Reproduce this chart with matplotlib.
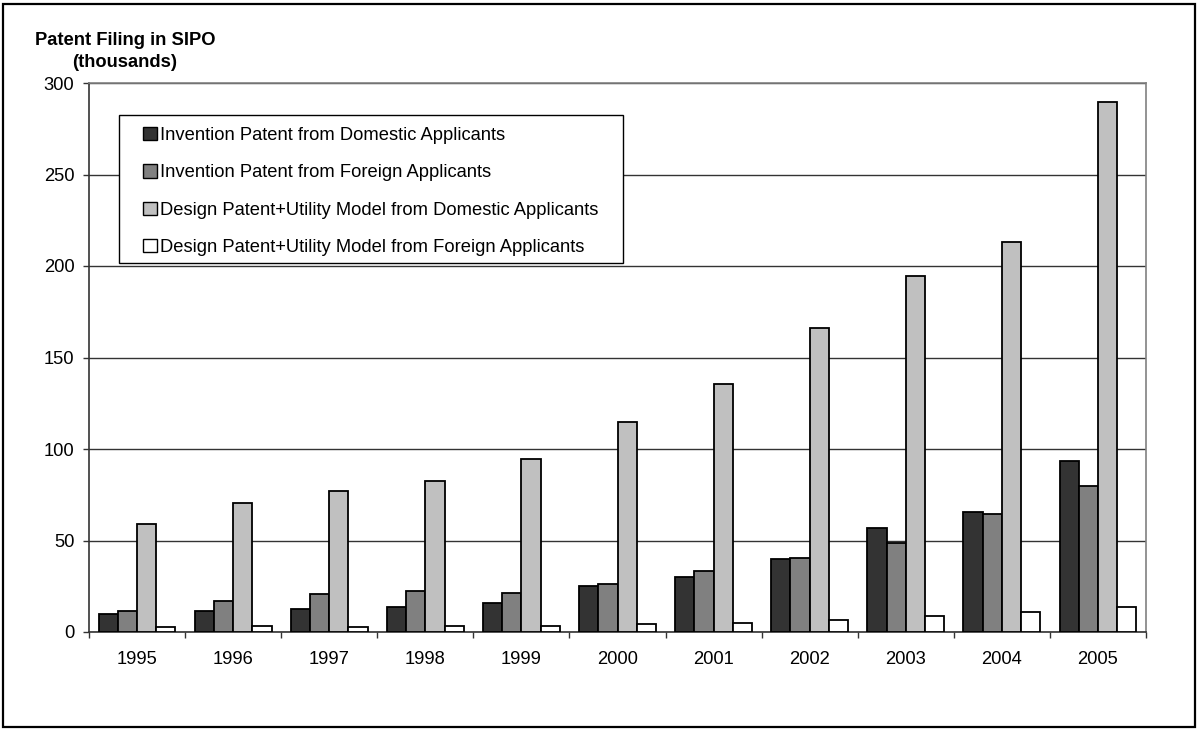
import matplotlib
matplotlib.use("Agg")
import matplotlib.pyplot as plt
from matplotlib.patches import Rectangle
import numpy as np

plt.rcParams['font.family'] = ['Liberation Sans', 'DejaVu Sans']

years = ['1995', '1996', '1997', '1998', '1999', '2000',
         '2001', '2002', '2003', '2004', '2005']

series_names = [
    'Invention Patent from Domestic Applicants',
    'Invention Patent from Foreign Applicants',
    'Design Patent+Utility Model from Domestic Applicants',
    'Design Patent+Utility Model from Foreign Applicants',
]

invention_domestic = [10.0, 11.5, 12.7, 13.7, 15.7, 25.2, 30.2, 39.8, 56.8, 65.8, 93.5]
invention_foreign = [11.6, 17.0, 21.0, 22.4, 21.2, 26.5, 33.5, 40.4, 48.6, 64.6, 80.0]
design_utility_domestic = [59.0, 70.5, 77.0, 82.5, 94.5, 115.0, 135.5, 166.0, 194.7, 213.3, 289.6]
design_utility_foreign = [2.5, 3.5, 3.0, 3.5, 3.3, 4.2, 4.9, 6.7, 8.9, 10.7, 13.6]

series_values = [invention_domestic, invention_foreign,
                 design_utility_domestic, design_utility_foreign]
series_colors = ['#333333', '#808080', '#C0C0C0', '#FFFFFF']

FS = 13.2
W, H = 1201, 729
fig = plt.figure(figsize=(W / 100, H / 100), dpi=100)
ax = fig.add_axes([89 / W, 1 - 632 / H, (1146 - 89) / W, (632 - 83) / H])

x = np.arange(len(years))
bar_w = 0.2
offsets = (np.arange(4) - 1.5) * bar_w
handles = []
for vals, col, name, off in zip(series_values, series_colors, series_names, offsets):
    b = ax.bar(x + off, vals, width=bar_w, color=col, edgecolor='black',
               linewidth=1.3, label=name, zorder=3)
    handles.append(b)

ax.set_xlim(-0.5, len(years) - 0.5)
ax.set_ylim(0, 300)
ax.set_yticks(np.arange(0, 301, 50))
ax.yaxis.grid(True, color='#333333', linewidth=1.0, zorder=0)
ax.set_axisbelow(True)

ax.set_xticks(x)
ax.set_xticklabels(years, fontsize=FS)
ax.set_xticks(np.arange(-0.5, len(years), 1.0), minor=True)
ax.tick_params(axis='x', which='major', length=0, pad=14)
ax.tick_params(axis='x', which='minor', length=4.5, width=1, direction='out', color='#333333')
ax.tick_params(axis='y', which='major', length=4.5, width=1, direction='out',
               labelsize=FS, pad=6, color='#333333')

for side in ('top', 'right'):
    ax.spines[side].set_color('#808080')
    ax.spines[side].set_linewidth(1.2)
for side in ('left', 'bottom'):
    ax.spines[side].set_color('#333333')
    ax.spines[side].set_linewidth(1.2)

# legend box with white background over the grid
box_l, box_t, box_r, box_b = 119, 115, 623, 263
ax.add_patch(Rectangle((box_l / W, 1 - box_b / H), (box_r - box_l) / W, (box_b - box_t) / H,
                       transform=fig.transFigure, facecolor='white', edgecolor='black',
                       linewidth=1.0, zorder=4))
leg = ax.legend(handles=handles, loc='upper left',
                bbox_to_anchor=(143 / W, 1 - 127 / H), bbox_transform=fig.transFigure,
                frameon=False, fontsize=FS, handlelength=0.75, handleheight=0.75,
                handletextpad=0.2, labelspacing=1.1, borderpad=0, borderaxespad=0)
leg.set_zorder(5)
for h in leg.legend_handles:
    h.set_linewidth(1.0)

fig.text(125 / W, 1 - 32 / H, 'Patent Filing in SIPO\n(thousands)', ha='center', va='top',
         fontsize=FS, fontweight='bold', multialignment='center', linespacing=1.35)

fig.patches.append(Rectangle((3 / W, 2 / H), (1195 - 3) / W, (726 - 3) / H,
                             transform=fig.transFigure, fill=False,
                             edgecolor='black', linewidth=1.6))

fig.savefig('out.png', dpi=100)
